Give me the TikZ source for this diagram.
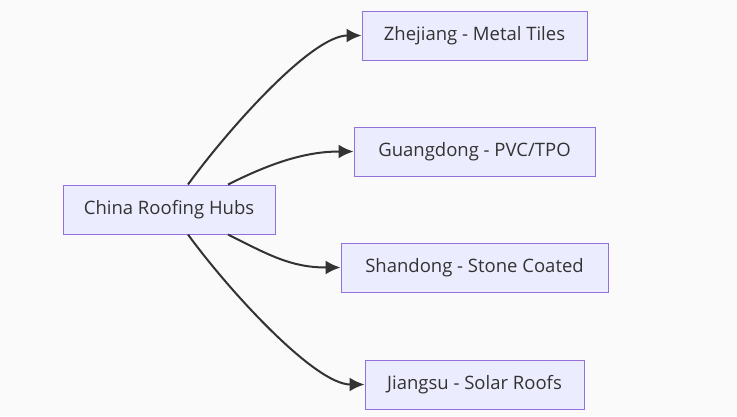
\documentclass[tikz,border=0pt]{standalone}
\usepackage{fontspec}
\setmainfont{Open Sans}
\usepackage{tikz}
\usetikzlibrary{arrows.meta}
\definecolor{hubFill}{HTML}{ECECFF}
\definecolor{hubBorder}{HTML}{9370DB}
\definecolor{hubText}{HTML}{333333}
\definecolor{pageBack}{HTML}{FAFAFA}

\begin{document}
\begin{tikzpicture}[
  x=1pt, y=-1pt,
  every hub/.style={
    draw=hubBorder,
    fill=hubFill,
    text=hubText,
    line width=1pt,
    font=\fontsize{18.5}{22}\selectfont,
    minimum height=49pt,
    inner xsep=8pt,
  },
  hub/.style={every hub},
  link/.style={
    draw=hubText,
    line width=2pt,
    -{Latex[length=15pt,width=14pt]},
  }
]
\fill[pageBack] (0,0) rectangle (737,416);
\useasboundingbox (0,0) rectangle (737,416);
\node[hub,minimum width=212pt] (china) at (169,209.5) {China Roofing Hubs};
\node[hub,minimum width=225pt] (zj) at (474.5,35.5) {Zhejiang - Metal Tiles};
\node[hub,minimum width=241pt] (gd) at (474.5,151.5) {Guangdong - PVC/TPO};
\node[hub,minimum width=267pt] (sd) at (474.5,267.5) {Shandong - Stone Coated};
\node[hub,minimum width=219pt] (js) at (474.5,384.5) {Jiangsu - Solar Roofs};
% connectors
\draw[link] ([xshift=19pt]china.north) .. controls +(40,-55) and +(-50,0) .. (zj.west);
\draw[link] ([xshift=59pt]china.north) .. controls +(40,-20) and +(-50,0) .. (gd.west);
\draw[link] ([xshift=59pt]china.south) .. controls +(40,20) and +(-50,0) .. (sd.west);
\draw[link] ([xshift=19pt]china.south) .. controls +(40,55) and +(-50,0) .. (js.west);
\end{tikzpicture}
\end{document}
